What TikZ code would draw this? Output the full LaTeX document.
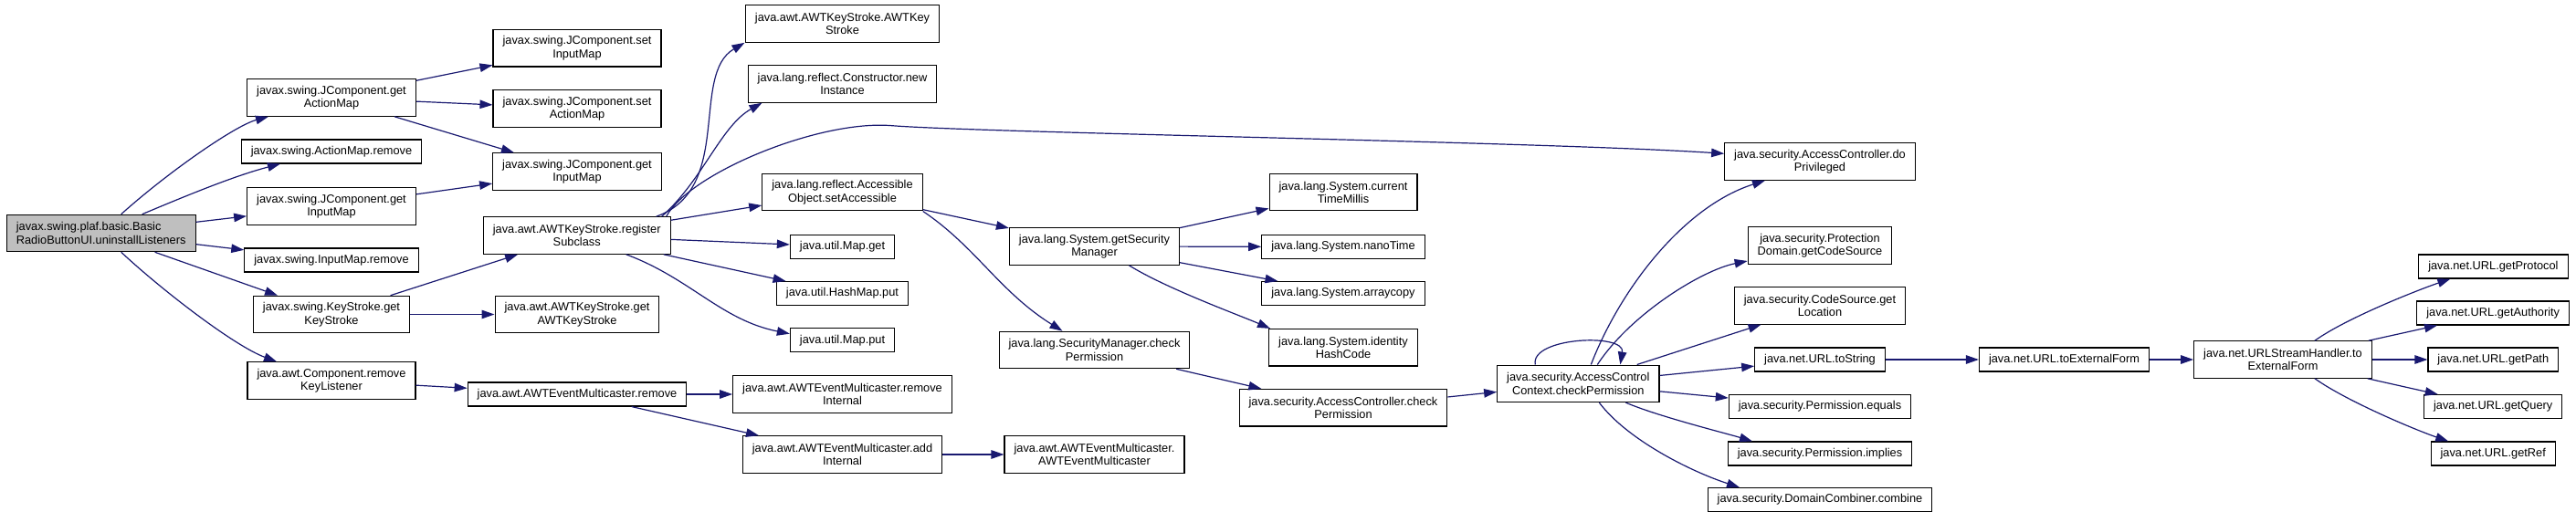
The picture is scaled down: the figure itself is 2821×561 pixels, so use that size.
\documentclass[tikz,border=0pt]{standalone}
\usepackage{fontspec}
\setmainfont{Liberation Sans}
\usepackage{xcolor}
\usetikzlibrary{arrows.meta}
\definecolor{callblue}{HTML}{191970}
\definecolor{rootbg}  {HTML}{BFBFBF}
\tikzset{
  fn/.style     ={draw=black, fill=white, line width=1.1pt,
                  inner xsep=10.5pt, inner ysep=0pt, minimum height=26pt,
                  align=center, font=\fontsize{12.8}{14.5}\selectfont},
  fntwo/.style  ={fn, minimum height=40.5pt},
  rootfn/.style ={fntwo, fill=rootbg, align=left},
  call/.style   ={-{Triangle[length=14pt,width=9.5pt]}, line width=1.2pt,
                  draw=callblue},
}
\begin{document}
\begin{tikzpicture}[x=1pt,y=-1pt]
  \useasboundingbox (0,0) rectangle (2821,561);

  \node[rootfn] (root) at (110.7,255.5)
    {javax.swing.plaf.basic.Basic\\RadioButtonUI.uninstallListeners};

  \node[fntwo] (getactmap) at (363,107)   {javax.swing.JComponent.get\\ActionMap};
  \node[fn]    (actmaprem) at (363,166)   {javax.swing.ActionMap.remove};
  \node[fntwo] (getinmapa) at (363,226)   {javax.swing.JComponent.get\\InputMap};
  \node[fn]    (inmaprem)  at (363,285)   {javax.swing.InputMap.remove};
  \node[fntwo] (getks)     at (363,344.5) {javax.swing.KeyStroke.get\\KeyStroke};
  \node[fntwo] (remkl)     at (363,417)   {java.awt.Component.remove\\KeyListener};

  \node[fntwo] (setinmap)  at (632,52.8)  {javax.swing.JComponent.set\\InputMap};
  \node[fntwo] (setactmap) at (632,119)   {javax.swing.JComponent.set\\ActionMap};
  \node[fntwo] (getinmapb) at (632,188)   {javax.swing.JComponent.get\\InputMap};
  \node[fntwo] (regsub)    at (631.7,258) {java.awt.AWTKeyStroke.register\\Subclass};
  \node[fntwo] (getawtks)  at (632,344.5) {java.awt.AWTKeyStroke.get\\AWTKeyStroke};
  \node[fn]    (aemrem)    at (632,432)   {java.awt.AWTEventMulticaster.remove};

  \node[fntwo] (awtks)       at (922.5,26)    {java.awt.AWTKeyStroke.AWTKey\\Stroke};
  \node[fntwo] (newinst)     at (922.5,92)    {java.lang.reflect.Constructor.new\\Instance};
  \node[fntwo] (setacc)      at (922.5,210.7) {java.lang.reflect.Accessible\\Object.setAccessible};
  \node[fn]    (mapget)      at (922.5,270.4) {java.util.Map.get};
  \node[fn]    (hmput)       at (922.5,321.6) {java.util.HashMap.put};
  \node[fn]    (mapput)      at (922.5,372.7) {java.util.Map.put};
  \node[fntwo] (reminternal) at (922.5,432)   {java.awt.AWTEventMulticaster.remove\\Internal};
  \node[fntwo] (addinternal) at (922.5,498)   {java.awt.AWTEventMulticaster.add\\Internal};

  \node[fntwo] (getsecmgr) at (1198.5,270)   {java.lang.System.getSecurity\\Manager};
  \node[fntwo] (smcheck)   at (1198.5,383.5) {java.lang.SecurityManager.check\\Permission};
  \node[fntwo] (aemctor)   at (1198.5,498)   {java.awt.AWTEventMulticaster.\\AWTEventMulticaster};

  \node[fntwo] (curtime)   at (1471,210.7) {java.lang.System.current\\TimeMillis};
  \node[fn]    (nanotime)  at (1471,270.4) {java.lang.System.nanoTime};
  \node[fn]    (arraycopy) at (1471,321.6) {java.lang.System.arraycopy};
  \node[fntwo] (idhash)    at (1471,380.7) {java.lang.System.identity\\HashCode};
  \node[fntwo] (accheck)   at (1471,446.7) {java.security.AccessController.check\\Permission};

  \node[fntwo] (acccheck) at (1728.3,420.3) {java.security.AccessControl\\Context.checkPermission};

  \node[fntwo] (doprivileged) at (1993,177)   {java.security.AccessController.do\\Privileged};
  \node[fntwo] (getcodesrc)   at (1993,269)   {java.security.Protection\\Domain.getCodeSource};
  \node[fntwo] (getloc)       at (1993,334.8) {java.security.CodeSource.get\\Location};
  \node[fn]    (urltostr)     at (1993,394)   {java.net.URL.toString};
  \node[fn]    (permeq)       at (1993,445.6) {java.security.Permission.equals};
  \node[fn]    (permimp)      at (1993,497)   {java.security.Permission.implies};
  \node[fn]    (dcombine)     at (1993,547.6) {java.security.DomainCombiner.combine};

  \node[fn]    (urlext) at (2260.5,394) {java.net.URL.toExternalForm};
  \node[fntwo] (ushext) at (2500,394)   {java.net.URLStreamHandler.to\\ExternalForm};

  \node[fn] (getproto) at (2730.4,292)   {java.net.URL.getProtocol};
  \node[fn] (getauth)  at (2730.2,343)   {java.net.URL.getAuthority};
  \node[fn] (getpath)  at (2730.3,394)   {java.net.URL.getPath};
  \node[fn] (getquery) at (2730.2,445.6) {java.net.URL.getQuery};
  \node[fn] (getref)   at (2730.2,497)   {java.net.URL.getRef};

  \coordinate (hump) at (975.5,137.6);

  \draw[call] ([xshift=22pt]root.north) .. controls +(50,-45) and +(-37,10) .. ([xshift=-69pt]getactmap.south);
  \draw[call] ([xshift=45pt]root.north) .. controls +(50,-21) and +(-50,13) .. ([xshift=-56pt]actmaprem.south);
  \draw[call] (root) -- (getinmapa);
  \draw[call] (root) -- (inmaprem);
  \draw[call] (root) -- (getks);
  \draw[call] ([xshift=22pt]root.south) .. controls +(45,42) and +(-46,-17) .. ([xshift=-60pt]remkl.north);

  \draw[call] (getactmap) -- (setinmap);
  \draw[call] (getactmap) -- (setactmap);
  \draw[call] (getactmap) -- (getinmapb);
  \draw[call] (getinmapa) -- (getinmapb);
  \draw[call] (getks) -- (regsub);
  \draw[call] (getks) -- (getawtks);
  \draw[call] (remkl) -- (aemrem);
  \draw[call] (aemrem) -- (reminternal);
  \draw[call] (aemrem) -- (addinternal);
  \draw[call] (addinternal) -- (aemctor);

  \draw[call] ([xshift=87pt]regsub.north) .. controls +(85,-30) and +(-60,35) .. ([xshift=-107pt]awtks.south);
  \draw[call] ([xshift=93pt]regsub.north) .. controls +(45,-40) and +(-45,25) .. ([xshift=-88pt]newinst.south);
  \draw[call] ([xshift=98pt]regsub.north) .. controls +(25,-47) and +(-80,-6) .. (hump)
    .. controls +(100,8) and +(-200,-13) .. ([yshift=8.7pt]doprivileged.west);
  \draw[call] (regsub) -- (setacc);
  \draw[call] (regsub) -- (mapget);
  \draw[call] (regsub) -- (hmput);
  \draw[call] ([xshift=54pt]regsub.south) .. controls +(70,26) and +(-75,-15) .. ([yshift=7pt]mapput.west);

  \draw[call] (setacc) -- (getsecmgr);
  \draw[call] (setacc.south east) .. controls +(58,39) and +(-69,-43) .. ([xshift=-35pt]smcheck.north);
  \draw[call] (getsecmgr) -- (curtime);
  \draw[call] (getsecmgr) -- (nanotime);
  \draw[call] (getsecmgr) -- (arraycopy);
  \draw[call] ([xshift=38pt]getsecmgr.south) .. controls +(40,25) and +(-35,-15) .. ([xshift=-80pt]idhash.north);
  \draw[call] (smcheck) -- (accheck);
  \draw[call] (accheck) -- (acccheck);

  \draw[call] ([xshift=-47pt]acccheck.north) .. controls +(-6,-30) and +(6,-35) .. ([xshift=46pt]acccheck.north);
  \draw[call] ([xshift=14pt]acccheck.north) .. controls +(33,-85) and +(-88,28) .. ([xshift=-60pt]doprivileged.south);
  \draw[call] ([xshift=21pt]acccheck.north) .. controls +(36,-55) and +(-50,10) .. ([yshift=-17pt]getcodesrc.west);
  \draw[call] (acccheck) -- (getloc);
  \draw[call] (acccheck) -- (urltostr);
  \draw[call] (acccheck) -- (permeq);
  \draw[call] ([xshift=52pt]acccheck.south) .. controls +(35,15) and +(-30,-9) .. ([xshift=-74pt]permimp.north);
  \draw[call] ([xshift=23pt]acccheck.south) .. controls +(30,40) and +(-55,-18) .. ([xshift=-88pt]dcombine.north);

  \draw[call] (urltostr) -- (urlext);
  \draw[call] (urlext) -- (ushext);
  \draw[call] ([xshift=35pt]ushext.north) .. controls +(35,-25) and +(-35,12) .. ([xshift=-47pt]getproto.south);
  \draw[call] (ushext) -- (getauth);
  \draw[call] (ushext) -- (getpath);
  \draw[call] (ushext) -- (getquery);
  \draw[call] ([xshift=35pt]ushext.south) .. controls +(35,25) and +(-35,-12) .. ([xshift=-49pt]getref.north);
\end{tikzpicture}
\end{document}
